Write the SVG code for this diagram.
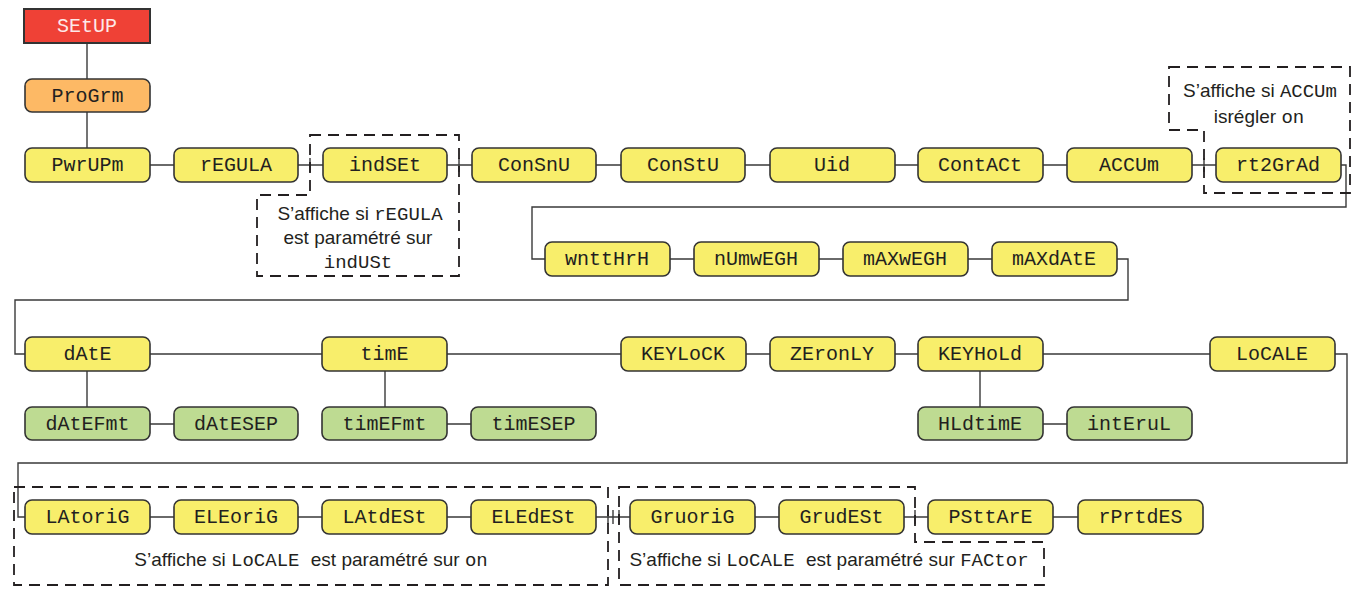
<svg xmlns="http://www.w3.org/2000/svg" width="1356" height="590" viewBox="0 0 1356 590">
<style>
.n rect{stroke:#333;stroke-width:1.6}
.y rect{fill:#F8EE6B}
.g rect{fill:#BEDB92}
.seg{font-family:"Liberation Mono","DejaVu Sans Mono",monospace;font-size:20px;fill:#231F20;text-anchor:middle}
.c path{fill:none;stroke:#3a3a3a;stroke-width:1.4}
.d{fill:none;stroke:#231F20;stroke-width:1.8;stroke-dasharray:11 7}
.tk{stroke:#231F20;stroke-width:1.6}
.note{font-family:"Liberation Sans",Arial,sans-serif;font-size:19px;fill:#231F20;text-anchor:middle}
.m{font-family:"Liberation Mono","DejaVu Sans Mono",monospace;font-size:19px}
</style>
<g class="c" id="connectors">
<path d="M87,43V79M87,112V148"/>
<path d="M150,165H174M298,165H323M447,165H472M596,165H621M745,165H770M895,165H918M1043,165H1067M1192,165H1216"/>
<path d="M1341,165H1346V207H532V259H545"/>
<path d="M670,259H694M819,259H843M968,259H992"/>
<path d="M1117,259H1128V300H15V354H25"/>
<path d="M150,354H322M447,354H621M746,354H770M895,354H918M1043,354H1210"/>
<path d="M87,371V407M385,371V407M980,371V407"/>
<path d="M150,424H174M447,424H471M1043,424H1067"/>
<path d="M1335,354H1347V463H18V517H25"/>
<path d="M150,517H174M298,517H322M447,517H471M596,517H630M755,517H779M904,517H928M1053,517H1078"/>
<path class="tk" d="M310,158V172M459,158V172M1204,158V172M608,510V524M613,510V524M619,510V524M915,510V524"/>
</g>
<g id="dashed">
<path class="d" d="M310,135H459V276H257V195H310Z"/>
<path class="d" d="M1169,67H1350V193H1204V130H1169Z"/>
<path class="d" d="M14,487H608V585H14Z"/>
<path class="d" d="M619,487H915V542H1044V585H619Z"/>
</g>
<g id="setup"><rect x="24" y="9" width="126" height="34" fill="#EF4136" stroke="#333" stroke-width="2"/><text class="seg" x="87" y="32" style="fill:#FDE8E8">SEtUP</text></g>
<g id="program" class="n"><rect x="25" y="79" width="125" height="33" rx="7" fill="#FDB965"/><text class="seg" x="87.5" y="102">ProGrm</text></g>
<g id="pwrupm" class="n y"><rect x="25" y="148" width="125" height="34" rx="7"/><text class="seg" x="87.5" y="171">PwrUPm</text></g>
<g id="regula" class="n y"><rect x="174" y="148" width="124" height="34" rx="7"/><text class="seg" x="236" y="171">rEGULA</text></g>
<g id="indset" class="n y"><rect x="323" y="148" width="124" height="34" rx="7"/><text class="seg" x="385" y="171">indSEt</text></g>
<g id="consnu" class="n y"><rect x="472" y="148" width="124" height="34" rx="7"/><text class="seg" x="534" y="171">ConSnU</text></g>
<g id="constu" class="n y"><rect x="621" y="148" width="124" height="34" rx="7"/><text class="seg" x="683" y="171">ConStU</text></g>
<g id="uid" class="n y"><rect x="770" y="148" width="125" height="34" rx="7"/><text class="seg" x="832" y="171">Uid</text></g>
<g id="contact" class="n y"><rect x="918" y="148" width="125" height="34" rx="7"/><text class="seg" x="980" y="171">ContACt</text></g>
<g id="accum" class="n y"><rect x="1067" y="148" width="125" height="34" rx="7"/><text class="seg" x="1129" y="171">ACCUm</text></g>
<g id="rt2grad" class="n y"><rect x="1216" y="148" width="125" height="34" rx="7"/><text class="seg" x="1278" y="171">rt2GrAd</text></g>
<g id="wntthrh" class="n y"><rect x="545" y="242" width="125" height="34" rx="7"/><text class="seg" x="607" y="265">wnttHrH</text></g>
<g id="numwegh" class="n y"><rect x="694" y="242" width="125" height="34" rx="7"/><text class="seg" x="756" y="265">nUmwEGH</text></g>
<g id="maxwegh" class="n y"><rect x="843" y="242" width="125" height="34" rx="7"/><text class="seg" x="905" y="265">mAXwEGH</text></g>
<g id="maxdate" class="n y"><rect x="992" y="242" width="125" height="34" rx="7"/><text class="seg" x="1054" y="265">mAXdAtE</text></g>
<g id="date" class="n y"><rect x="25" y="337" width="125" height="34" rx="7"/><text class="seg" x="87.5" y="360">dAtE</text></g>
<g id="time" class="n y"><rect x="322" y="337" width="125" height="34" rx="7"/><text class="seg" x="384.5" y="360">timE</text></g>
<g id="keylock" class="n y"><rect x="621" y="337" width="125" height="34" rx="7"/><text class="seg" x="683" y="360">KEYLoCK</text></g>
<g id="zeronly" class="n y"><rect x="770" y="337" width="125" height="34" rx="7"/><text class="seg" x="832" y="360">ZEronLY</text></g>
<g id="keyhold" class="n y"><rect x="918" y="337" width="125" height="34" rx="7"/><text class="seg" x="980" y="360">KEYHoLd</text></g>
<g id="locale" class="n y"><rect x="1210" y="337" width="125" height="34" rx="7"/><text class="seg" x="1272" y="360">LoCALE</text></g>
<g id="datefmt" class="n g"><rect x="25" y="407" width="125" height="33" rx="7"/><text class="seg" x="87.5" y="430">dAtEFmt</text></g>
<g id="datesep" class="n g"><rect x="174" y="407" width="124" height="33" rx="7"/><text class="seg" x="236" y="430">dAtESEP</text></g>
<g id="timefmt" class="n g"><rect x="322" y="407" width="125" height="33" rx="7"/><text class="seg" x="384.5" y="430">timEFmt</text></g>
<g id="timesep" class="n g"><rect x="471" y="407" width="125" height="33" rx="7"/><text class="seg" x="533.5" y="430">timESEP</text></g>
<g id="hldtime" class="n g"><rect x="918" y="407" width="125" height="33" rx="7"/><text class="seg" x="980" y="430">HLdtimE</text></g>
<g id="interul" class="n g"><rect x="1067" y="407" width="125" height="33" rx="7"/><text class="seg" x="1129" y="430">intEruL</text></g>
<g id="latorig" class="n y"><rect x="25" y="500" width="125" height="34" rx="7"/><text class="seg" x="87.5" y="523">LAtoriG</text></g>
<g id="eleorig" class="n y"><rect x="174" y="500" width="124" height="34" rx="7"/><text class="seg" x="236" y="523">ELEoriG</text></g>
<g id="latdest" class="n y"><rect x="322" y="500" width="125" height="34" rx="7"/><text class="seg" x="384.5" y="523">LAtdESt</text></g>
<g id="eledest" class="n y"><rect x="471" y="500" width="125" height="34" rx="7"/><text class="seg" x="533.5" y="523">ELEdESt</text></g>
<g id="gruorig" class="n y"><rect x="630" y="500" width="125" height="34" rx="7"/><text class="seg" x="692.5" y="523">GruoriG</text></g>
<g id="grudest" class="n y"><rect x="779" y="500" width="125" height="34" rx="7"/><text class="seg" x="841.5" y="523">GrudESt</text></g>
<g id="psttare" class="n y"><rect x="928" y="500" width="125" height="34" rx="7"/><text class="seg" x="990.5" y="523">PSttArE</text></g>
<g id="rprtdes" class="n y"><rect x="1078" y="500" width="125" height="34" rx="7"/><text class="seg" x="1140.5" y="523">rPrtdES</text></g>
<g id="notes">
<text class="note" x="360" y="220">S’affiche si <tspan class="m">rEGULA</tspan></text>
<text class="note" x="358" y="244">est paramétré sur</text>
<text class="note" x="358" y="268"><tspan class="m">indUSt</tspan></text>
<text class="note" x="1260" y="97">S’affiche si <tspan class="m">ACCUm</tspan></text>
<text class="note" x="1259" y="123">isrégler <tspan class="m">on</tspan></text>
<text class="note" x="311" y="566">S’affiche si <tspan class="m">LoCALE</tspan><tspan dx="6"> est paramétré sur </tspan><tspan class="m">on</tspan></text>
<text class="note" x="829" y="566">S’affiche si <tspan class="m">LoCALE</tspan><tspan dx="6"> est paramétré sur </tspan><tspan class="m">FACtor</tspan></text>
</g>
</svg>
